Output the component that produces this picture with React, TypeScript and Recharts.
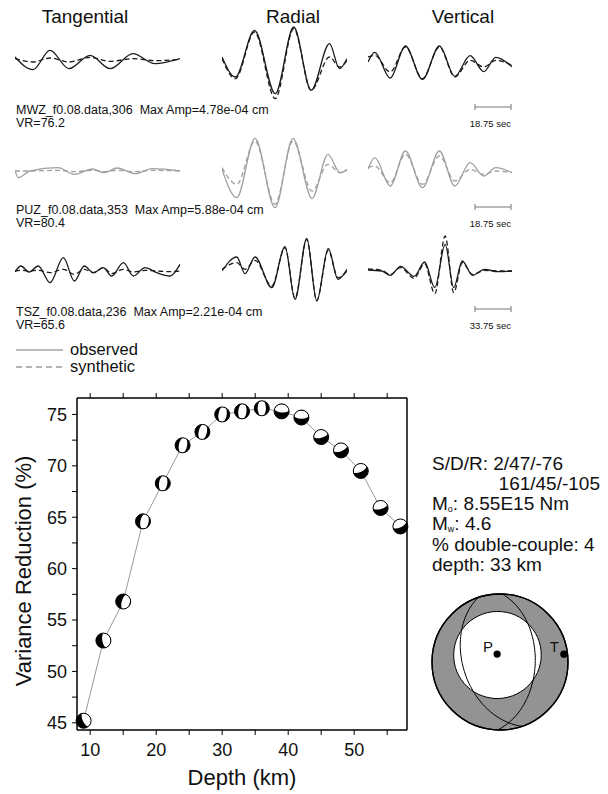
import React from 'react';
import { LineChart, Line, XAxis, YAxis, ComposedChart, Scatter, ScatterChart } from 'recharts';

const FONT = '"Liberation Sans", Arial, Helvetica, sans-serif';

// ---- depth search ----
const depthKm = [9, 12, 15, 18, 21, 24, 27, 30, 33, 36, 39, 42, 45, 48, 51, 54, 57];
const varianceReduction = [45.2, 53.0, 56.8, 64.6, 68.3, 72.0, 73.3, 75.0, 75.3, 75.6, 75.3, 74.7, 72.8, 71.5, 69.5, 65.9, 64.1];
// orientation of each small mechanism (deg) and side of its white lens
const mechTilt = [-25, -10, 15, 10, 8, 10, 12, 8, 5, 0, 95, 90, 75, 70, 65, 75, 65];
const mechShift = [0.45, 0.4, 0.35, 0.2, 0.05, 0.05, 0.05, 0.05, 0.05, 0, -0.4, -0.4, -0.45, -0.45, -0.45, -0.4, -0.45];
const depthTicks = [10, 15, 20, 25, 30, 35, 40, 45, 50, 55];
const vrTicks = [45, 47.5, 50, 52.5, 55, 57.5, 60, 62.5, 65, 67.5, 70, 72.5, 75];

// ---- best solution ----
const nodalStrike = [2, 161];
const nodalDip = [47, 45];
const nodalRake = [-76, -105];
const pAxis = { trend: 340, plunge: 80 };
const tAxis = { trend: 83, plunge: 6 };
const dilatationCone = 54;
const moment = '8.55E15';
const magnitude = 4.6;
const doubleCouple = 4;
const bestDepth = 33;

// ---- stations ----
const stationNames = ['MWZ_f0.08.data,306', 'PUZ_f0.08.data,353', 'TSZ_f0.08.data,236'];
const maxAmps = ['4.78e-04', '5.88e-04', '2.21e-04'];
const vrValues = ['76.2', '80.4', '65.6'];
const barSeconds = ['18.75', '18.75', '33.75'];
const components = ['Tangential', 'Radial', 'Vertical'];

// waveforms, normalised amplitude at % of trace length
const mwzTanT = [0, 10.9, 21.2, 32.7, 45.5, 57.6, 71.5, 84.8, 100];
const mwzTanObs = [0.15, -0.23, 0.35, -0.2, 0.2, -0.2, 0.25, -0.05, 0.1];
const mwzTanSyn = [0.1, 0.0, 0.12, 0.0, 0.14, 0.02, 0.1, 0.04, 0.08];
const mwzRadT = [0, 10.7, 26, 42.6, 57.4, 71.3, 86, 94, 100];
const mwzRadObs = [0.15, -0.45, 0.95, -0.95, 1.05, -0.85, 0.55, -0.2, 0.1];
const mwzRadSyn = [0.1, -0.5, 0.9, -1.1, 1.0, -0.85, 0.15, -0.15, 0.05];
const mwzVerT = [0, 4.7, 15.4, 26, 37.8, 49.6, 60.3, 70.9, 80.4, 88.7, 100];
const mwzVerObs = [0, 0.29, -0.48, 0.48, -0.52, 0.48, -0.43, 0.19, -0.29, 0.14, -0.14];
const mwzVerSyn = [0.15, 0.2, -0.3, 0.45, -0.5, 0.45, -0.45, 0.05, -0.15, 0.05, -0.1];

const puzTanT = [0, 2, 9, 26, 36, 47, 54, 62, 73, 83, 100];
const puzTanObs = [0.02, -0.2, 0.0, 0.1, -0.1, 0.06, -0.05, 0.09, -0.08, 0.07, 0.0];
const puzTanSyn = [0.0, 0.0, 0.0, 0.02, -0.02, 0.02, -0.02, 0.02, -0.02, 0.02, 0.0];
const puzRadT = [0, 11.8, 26.4, 42.4, 56.8, 72, 84.8, 94.4, 100];
const puzRadObs = [0.05, -0.8, 0.98, -1.1, 0.98, -0.82, 0.5, -0.05, 0.05];
const puzRadSyn = [0.1, -0.4, 0.9, -1.0, 0.9, -0.6, 0.2, -0.05, 0.02];
const puzVerT = [0, 4.7, 15.4, 26, 37.8, 49.6, 60.3, 70.9, 80.4, 88.7, 100];
const puzVerObs = [0.05, 0.4, -0.45, 0.6, -0.5, 0.6, -0.45, 0.25, -0.15, 0.1, -0.05];
const puzVerSyn = [0.1, 0.15, -0.35, 0.5, -0.4, 0.45, -0.3, 0.05, -0.1, 0.0, -0.05];

const tszTanT = [0, 3.6, 8.5, 14.1, 21.2, 29.3, 36, 42, 47.5, 53.5, 58.6, 65.7, 71.7, 78.8, 85.9, 93.9, 100];
const tszTanObs = [-0.03, 0.15, -0.03, 0.15, -0.35, 0.4, -0.3, 0.15, -0.05, 0.1, -0.15, 0.25, -0.15, 0.1, -0.05, -0.15, 0.2];
const tszTanSyn = [0, 0.02, 0, 0.02, -0.05, 0.05, -0.1, 0.05, -0.05, 0.1, -0.08, 0.05, -0.03, 0.02, 0, -0.02, 0];
const tszRadT = [0, 11.8, 18.4, 26.4, 39.8, 50.4, 58.4, 67.8, 75.8, 85, 92.8, 100];
const tszRadObs = [0.0, 0.42, -0.08, 0.42, -0.5, 0.73, -0.85, 0.98, -0.9, 0.68, -0.25, 0.05];
const tszRadSyn = [0.05, 0.25, 0.05, 0.32, -0.45, 0.7, -0.82, 0.95, -0.88, 0.62, -0.2, 0.0];
const tszVerT = [0, 9.5, 15.5, 22.6, 32, 39.3, 46.4, 53.6, 59.5, 65.5, 72.6, 81, 90, 100];
const tszVerObs = [0.03, 0.0, -0.13, 0.14, -0.16, 0.27, -0.5, 0.8, -0.5, 0.3, -0.13, 0.05, -0.02, 0.0];
const tszVerSyn = [0.06, 0.02, -0.1, 0.1, -0.22, 0.22, -0.68, 1.05, -0.65, 0.25, -0.1, 0.02, 0.0, 0.0];

const traces = [
  [[mwzTanT, mwzTanObs, mwzTanSyn], [mwzRadT, mwzRadObs, mwzRadSyn], [mwzVerT, mwzVerObs, mwzVerSyn]],
  [[puzTanT, puzTanObs, puzTanSyn], [puzRadT, puzRadObs, puzRadSyn], [puzVerT, puzVerObs, puzVerSyn]],
  [[tszTanT, tszTanObs, tszTanSyn], [tszRadT, tszRadObs, tszRadSyn], [tszVerT, tszVerObs, tszVerSyn]],
];

// layout
const PANEL_H = 90;
const rowCenter = [62, 171, 271];
const rowColor = ['#1a1a1a', '#a0a0a0', '#1a1a1a'];
const cols = [
  { left: 15, width: 165, title: 85 },
  { left: 222, width: 125, title: 293 },
  { left: 368, width: 144, title: 463 },
];
const textRowTop = [104, 204, 306];

const WavePanel = ({ t, obs, syn, left, top, width, color }: any) => {
  const data = t.map((x: number, i: number) => ({ t: x, obs: obs[i], syn: syn[i] }));
  return (
    <div style={{ position: 'absolute', left, top, width, height: PANEL_H }}>
      <LineChart width={width} height={PANEL_H} data={data} margin={{ top: 0, right: 0, bottom: 0, left: 0 }}>
        <XAxis type="number" dataKey="t" domain={[0, 100]} hide />
        <YAxis type="number" domain={[-1.35, 1.35]} hide />
        <Line dataKey="obs" type="monotone" stroke={color} strokeWidth={1.3} dot={false} isAnimationActive={false} />
        <Line dataKey="syn" type="monotone" stroke={color} strokeWidth={1.3} strokeDasharray="5 3" dot={false} isAnimationActive={false} />
      </LineChart>
    </div>
  );
};

// small mechanism at each trial depth
const MechMarker = (props: any) => {
  const { cx, cy, payload } = props;
  if (cx == null || cy == null) return null;
  const r = 7.5;
  const id = `mech-${payload.depth}`;
  return (
    <g>
      <defs>
        <clipPath id={id}>
          <circle cx={cx} cy={cy} r={r} />
        </clipPath>
      </defs>
      <circle cx={cx} cy={cy} r={r} fill="#000" />
      <g clipPath={`url(#${id})`}>
        <ellipse
          cx={cx + payload.shift * r}
          cy={cy}
          rx={r * 0.55}
          ry={r * 1.08}
          fill="#fff"
          transform={`rotate(${payload.tilt} ${cx} ${cy})`}
        />
      </g>
      <circle cx={cx} cy={cy} r={r} fill="none" stroke="#000" strokeWidth={1} />
    </g>
  );
};

// lower-hemisphere equal-area projection helpers
const rad = Math.PI / 180;
const project = (v: number[], R: number) => {
  let [e, n, d] = v;
  if (d < 0) { e = -e; n = -n; d = -d; }
  const plunge = Math.asin(Math.min(1, d));
  const trend = Math.atan2(e, n);
  const r = R * Math.SQRT2 * Math.sin((Math.PI / 2 - plunge) / 2);
  return [r * Math.sin(trend), -r * Math.cos(trend)];
};
const axisVec = (trend: number, plunge: number) => [
  Math.cos(plunge * rad) * Math.sin(trend * rad),
  Math.cos(plunge * rad) * Math.cos(trend * rad),
  Math.sin(plunge * rad),
];

const FocalSphere = (props: any) => {
  const { cx, cy } = props;
  if (cx == null || cy == null) return null;
  const R = 68;
  const toPath = (pts: number[][], close = false) =>
    pts.map((p, i) => `${i ? 'L' : 'M'}${(cx + p[0]).toFixed(1)},${(cy + p[1]).toFixed(1)}`).join(' ') + (close ? ' Z' : '');

  const planes = nodalStrike.map((s, k) => {
    const dip = nodalDip[k];
    const sv = [Math.sin(s * rad), Math.cos(s * rad), 0];
    const dv = [Math.cos(dip * rad) * Math.sin((s + 90) * rad), Math.cos(dip * rad) * Math.cos((s + 90) * rad), Math.sin(dip * rad)];
    const pts: number[][] = [];
    for (let a = 0; a <= 180; a += 3) {
      const c = Math.cos(a * rad), si = Math.sin(a * rad);
      pts.push(project([c * sv[0] + si * dv[0], c * sv[1] + si * dv[1], c * sv[2] + si * dv[2]], R));
    }
    return toPath(pts);
  });

  const P = axisVec(pAxis.trend, pAxis.plunge);
  let u = [P[1], -P[0], 0];
  const ul = Math.hypot(u[0], u[1]);
  u = [u[0] / ul, u[1] / ul, 0];
  const w = [P[1] * u[2] - P[2] * u[1], P[2] * u[0] - P[0] * u[2], P[0] * u[1] - P[1] * u[0]];
  const cone: number[][] = [];
  const ct = Math.cos(dilatationCone * rad), st = Math.sin(dilatationCone * rad);
  for (let a = 0; a < 360; a += 6) {
    const c = Math.cos(a * rad), s = Math.sin(a * rad);
    cone.push(project([0, 1, 2].map((i) => ct * P[i] + st * (c * u[i] + s * w[i])), R));
  }

  const pXY = project(P, R);
  const tXY = project(axisVec(tAxis.trend, tAxis.plunge), R);

  return (
    <g>
      <circle cx={cx} cy={cy} r={R} fill="#939393" stroke="#000" strokeWidth={1.3} />
      <path d={toPath(cone, true)} fill="#fff" stroke="#000" strokeWidth={1} />
      {planes.map((d, i) => (
        <path key={i} d={d} fill="none" stroke="#000" strokeWidth={1} />
      ))}
      <circle cx={cx} cy={cy} r={R} fill="none" stroke="#000" strokeWidth={1.3} />
      <circle cx={cx + pXY[0]} cy={cy + pXY[1]} r={3.6} fill="#000" />
      <circle cx={cx + tXY[0]} cy={cy + tXY[1]} r={3.6} fill="#000" />
      <text x={cx + pXY[0] - 4} y={cy + pXY[1] - 2} textAnchor="end" fontSize={15} fontFamily={FONT} fill="#111">P</text>
      <text x={cx + tXY[0] - 5} y={cy + tXY[1] - 2} textAnchor="end" fontSize={15} fontFamily={FONT} fill="#111">T</text>
    </g>
  );
};

const abs = (left: number, top: number, extra: any = {}) => ({ position: 'absolute' as const, left, top, whiteSpace: 'nowrap' as const, ...extra });

export default function App() {
  const depthData = depthKm.map((d, i) => ({ depth: d, vr: varianceReduction[i], tilt: mechTilt[i], shift: mechShift[i] }));
  const axisStyle = { stroke: '#000', strokeWidth: 1.5 };
  const tickStyle = { fill: '#111', fontSize: 18, fontFamily: FONT };
  const sub = { fontSize: 9, position: 'relative' as const, top: 2, lineHeight: '9px' };

  return (
    <div style={{ position: 'absolute', left: 0, top: 0, width: 608, height: 794, background: '#fff', fontFamily: FONT, color: '#111' }}>
      {components.map((c, i) => (
        <div key={c} style={abs(cols[i].title - 70, 7, { width: 140, textAlign: 'center', fontSize: 19, lineHeight: '19px' })}>{c}</div>
      ))}

      {traces.map((row, r) =>
        row.map((tr, c) => (
          <WavePanel
            key={`${r}-${c}`}
            t={tr[0]}
            obs={tr[1]}
            syn={tr[2]}
            left={cols[c].left}
            top={rowCenter[r] - PANEL_H / 2}
            width={cols[c].width}
            color={rowColor[r]}
          />
        ))
      )}

      {stationNames.map((s, r) => (
        <React.Fragment key={s}>
          <div style={abs(16, textRowTop[r], { fontSize: 12.5, lineHeight: '13px' })}>
            {s}&nbsp;&nbsp;Max Amp={maxAmps[r]} cm
          </div>
          <div style={abs(16, textRowTop[r] + 13, { fontSize: 12.5, lineHeight: '13px' })}>VR={vrValues[r]}</div>
          <svg style={abs(472, textRowTop[r] - 2)} width={42} height={10}>
            <line x1={3} x2={39} y1={5} y2={5} stroke="#777" strokeWidth={1} />
            <line x1={3} x2={3} y1={2} y2={8} stroke="#777" strokeWidth={1} />
            <line x1={39} x2={39} y1={2} y2={8} stroke="#777" strokeWidth={1} />
          </svg>
          <div style={abs(452, textRowTop[r] + 15, { width: 59, textAlign: 'right', fontSize: 9.5, lineHeight: '10px' })}>{barSeconds[r]} sec</div>
        </React.Fragment>
      ))}

      <svg style={abs(14, 343)} width={52} height={30}>
        <line x1={2} x2={49} y1={7} y2={7} stroke="#777" strokeWidth={1.2} />
        <line x1={2} x2={49} y1={24} y2={24} stroke="#666" strokeWidth={1.2} strokeDasharray="6 4" />
      </svg>
      <div style={abs(70, 341, { fontSize: 16.5, lineHeight: '17px' })}>observed</div>
      <div style={abs(70, 358, { fontSize: 16.5, lineHeight: '17px' })}>synthetic</div>

      <div style={abs(0, 380)}>
        <ComposedChart width={420} height={414} data={depthData} margin={{ top: 10, right: 5, bottom: 0, left: 0 }}>
          <XAxis xAxisId="bottom" type="number" dataKey="depth" domain={[8, 58]} ticks={depthTicks} interval={0}
            tickFormatter={(v: number) => (v % 10 === 0 ? String(v) : '')} height={64}
            axisLine={axisStyle} tickLine={{ stroke: '#000' }} tickSize={5} tickMargin={8} tick={tickStyle} />
          <XAxis xAxisId="top" orientation="top" type="number" dataKey="depth" domain={[8, 58]} ticks={depthTicks} interval={0}
            tickFormatter={() => ''} height={8} axisLine={axisStyle} tickLine={{ stroke: '#000' }} tickSize={5} />
          <YAxis yAxisId="left" type="number" domain={[44.3, 76.6]} ticks={vrTicks} interval={0}
            tickFormatter={(v: number) => (v % 5 === 0 ? String(v) : '')} width={77}
            axisLine={axisStyle} tickLine={{ stroke: '#000' }} tickSize={5} tickMargin={5} tick={tickStyle} />
          <YAxis yAxisId="right" orientation="right" type="number" domain={[44.3, 76.6]} ticks={vrTicks} interval={0}
            tickFormatter={() => ''} width={8} axisLine={axisStyle} tickLine={{ stroke: '#000' }} tickSize={5} />
          <Line xAxisId="bottom" yAxisId="left" dataKey="vr" type="linear" stroke="#9a9a9a" strokeWidth={1} dot={false} isAnimationActive={false} />
          <Scatter xAxisId="bottom" yAxisId="left" dataKey="vr" shape={MechMarker} isAnimationActive={false} />
        </ComposedChart>
      </div>

      <div style={abs(-126, 560, { width: 300, textAlign: 'center', fontSize: 22, lineHeight: '22px', transform: 'rotate(-90deg)' })}>
        Variance Reduction (%)
      </div>
      <div style={abs(142, 767, { width: 200, textAlign: 'center', fontSize: 22, lineHeight: '22px' })}>Depth (km)</div>

      <div style={abs(432, 454, { fontSize: 19, lineHeight: '19px' })}>S/D/R: {nodalStrike[0]}/{nodalDip[0]}/{nodalRake[0]}</div>
      <div style={abs(400, 474, { width: 200, textAlign: 'right', fontSize: 19, lineHeight: '19px' })}>{nodalStrike[1]}/{nodalDip[1]}/{nodalRake[1]}</div>
      <div style={abs(432, 494, { fontSize: 19, lineHeight: '19px' })}>
        M<span style={sub}>o</span>: {moment} Nm
      </div>
      <div style={abs(432, 514, { fontSize: 19, lineHeight: '19px' })}>
        M<span style={sub}>w</span>: {magnitude}
      </div>
      <div style={abs(432, 535, { fontSize: 19, lineHeight: '19px' })}>% double-couple: {doubleCouple}</div>
      <div style={abs(432, 555, { fontSize: 19, lineHeight: '19px' })}>depth: {bestDepth} km</div>

      <div style={abs(425, 587)}>
        <ScatterChart width={150} height={150} margin={{ top: 0, right: 0, bottom: 0, left: 0 }}>
          <XAxis type="number" dataKey="x" domain={[-1, 1]} hide />
          <YAxis type="number" dataKey="y" domain={[-1, 1]} hide />
          <Scatter data={[{ x: 0, y: 0 }]} shape={FocalSphere} isAnimationActive={false} />
        </ScatterChart>
      </div>
    </div>
  );
}
